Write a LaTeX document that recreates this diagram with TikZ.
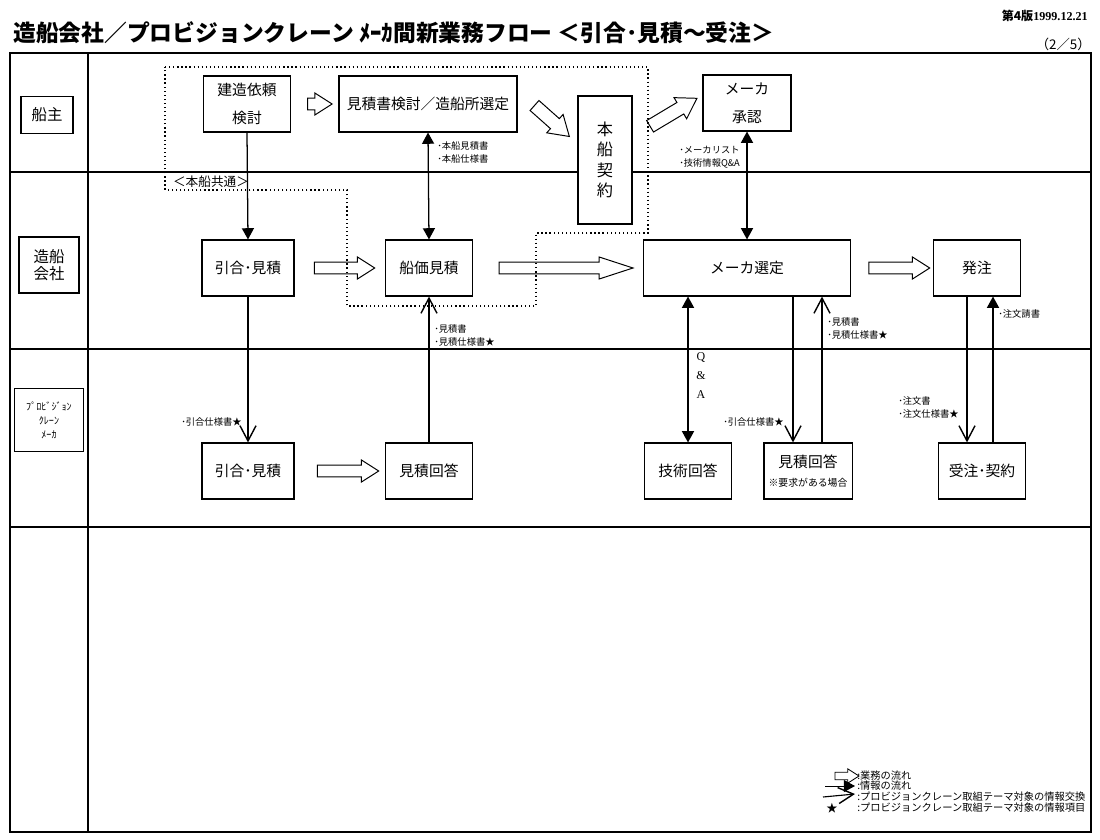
\documentclass[tikz,border=0pt]{standalone}
\usepackage{fontspec}
\setmainfont{Noto Sans CJK JP}
\newfontfamily\romanfont{Liberation Serif}
\usetikzlibrary{shapes.arrows,arrows.meta,calc}

% hollow arrow (業務の流れ) between two points
\newcommand{\flowarrow}[3][]{%
  \path (#2) coordinate (fa) (#3) coordinate (fb);
  \path let \p1=($(fb)-(fa)$), \n1={veclen(\x1,\y1)}, \n2={atan2(\y1,\x1)} in
    node[flow, minimum height=\n1, rotate=\n2, #1] at ($(fa)!0.5!(fb)$) {};}

\begin{document}
\begin{tikzpicture}[
    x=0.025cm, y=-0.025cm,
    box/.style={rectangle, draw, fill=white, line width=0.8pt, minimum width=2.17cm, minimum height=1.4cm, align=center, font=\fontsize{10.5}{20}\selectfont},
    lane/.style={rectangle, draw, fill=white, line width=0.8pt, align=center, inner sep=1pt},
    flow/.style={single arrow, draw, line width=0.7pt, inner xsep=0pt, inner ysep=3.9pt, single arrow head extend=3.6pt, single arrow tip angle=65, minimum width=0pt},
    info/.style={draw, line width=0.9pt, -{Triangle[length=2.8mm,width=3mm]}},
    infoboth/.style={info, {Triangle[length=2.8mm,width=3mm]}-{Triangle[length=2.8mm,width=3mm]}},
    xchg/.style={draw, line width=1.5pt, -{Straight Barb[length=3.8mm,width=4mm,line width=1pt]}},
    note/.style={anchor=west, inner sep=0pt, align=left, font=\fontsize{6.6}{9.2}\selectfont},
    legtext/.style={anchor=west, inner sep=0pt, font=\fontsize{7.3}{9}\selectfont}
]
    \useasboundingbox (0,0) rectangle (1100,840);

    % heading
    \node[anchor=west, inner sep=0pt, font=\bfseries\fontsize{16.2}{18}\selectfont] (title) at (13,33)
        {造船会社／プロビジョンクレーン ﾒｰｶ間新業務フロー ＜引合･見積～受注＞};
    \node[anchor=east, inner sep=0pt, font=\bfseries\fontsize{8.6}{10}\selectfont] (date) at (1088,16)
        {第4版{\romanfont 1999.12.21}};
    \node[anchor=east, inner sep=0pt, font=\fontsize{9.5}{11}\selectfont] (page) at (1091,44) {（2／5）};

    % lanes
    \draw[line width=1pt] (10,53) rectangle (1091,832);
    \draw[line width=1pt] (88,53) -- (88,832);
    \foreach \y in {172,349,527}
        \draw[line width=0.8pt] (10,\y) -- (1091,\y);

    \node[lane, minimum width=1.3cm, minimum height=0.93cm, font=\fontsize{11}{12}\selectfont] (owner) at (47,115) {船主};
    \node[lane, minimum width=1.5cm, minimum height=1.4cm, font=\fontsize{11}{12}\selectfont] (yard) at (49,265) {造船\\会社};
    \node[lane, minimum width=1.72cm, minimum height=1.58cm, font=\fontsize{7.2}{10}\selectfont] (maker) at (49,420) {ﾌﾟﾛﾋﾞｼﾞｮﾝ\\ｸﾚｰﾝ\\ﾒｰｶ};

    % boxes
    \node[box] (kento) at (247,104) {建造依頼\\検討};
    \node[box, minimum width=4.45cm] (sentei) at (428,104) {見積書検討／造船所選定};
    \node[box, minimum width=1.35cm, minimum height=3.2cm, font=\fontsize{11.5}{14.5}\selectfont] (keiyaku) at (605,160) {本\\船\\契\\約};
    \node[box, minimum width=2.2cm] (shonin) at (747,103) {メーカ\\承認};

    \node[box, minimum width=2.3cm] (hikiai) at (248,268) {引合･見積};
    \node[box] (senka) at (429,268) {船価見積};
    \node[box, minimum width=5.18cm] (makersel) at (747,268) {メーカ選定};
    \node[box] (hatchu) at (977,268) {発注};

    \node[box, minimum width=2.3cm] (phikiai) at (248,471) {引合･見積};
    \node[box] (pkaito) at (429,471) {見積回答};
    \node[box] (gijutsu) at (688,471) {技術回答};
    \node[box, font=\fontsize{10.5}{13}\selectfont] (pmitsu) at (808,471) {見積回答\\{\fontsize{7}{8}\selectfont ※要求がある場合}};
    \node[box] (juchu) at (982,471) {受注･契約};

    % business flow
    \flowarrow{$(kento.east)+(12,0)$}{$(sentei.west)+(-11,0)$}
    \flowarrow[inner ysep=4.4pt, single arrow head extend=4pt]{$(sentei.east)+(13,-2)$}{$(keiyaku.west)+(-12,-27)$}
    \flowarrow[inner ysep=4.4pt, single arrow head extend=4pt]{$(keiyaku.east)+(13,-31)$}{$(shonin.west)+(-10,-2)$}
    \flowarrow{$(hikiai.east)+(15,0)$}{$(senka.west)+(-15,0)$}
    \flowarrow[single arrow tip angle=36]{$(senka.east)+(17,0)$}{$(makersel.west)+(-19,0)$}
    \flowarrow{$(makersel.east)+(13,0)$}{$(hatchu.west)+(-8,0)$}
    \flowarrow{$(phikiai.east)+(18,0)$}{$(pkaito.west)+(-11,0)$}

    % common area
    \draw[dotted, line width=0.9pt] (165,67) -- (648,67) -- (648,233) -- (536,233) -- (536,306)
        -- (347,306) -- (347,190) -- (165,190) -- cycle;
    \node[inner sep=0pt, font=\fontsize{9}{10}\selectfont] (common) at (211,182) {＜本船共通＞};

    % information flow
    \draw[info] (kento.south) -- (hikiai.north);
    \draw[infoboth] (sentei.south) -- (senka.north);
    \draw[infoboth] (shonin.south) -- (makersel.north);
    \draw[infoboth] (makersel.south -| gijutsu.north) -- (gijutsu.north);
    \draw[xchg] (hikiai.south) -- (phikiai.north);
    \draw[xchg] (pkaito.north) -- (senka.south);

    \coordinate (m1) at ($(pmitsu.north)+(-15,0)$);
    \coordinate (m2) at ($(pmitsu.north)+(14,0)$);
    \draw[xchg] (m1 |- makersel.south) -- (m1);
    \draw[xchg, line width=0.8pt] (m2) -- (m2 |- makersel.south);
    \coordinate (j1) at ($(juchu.north)+(-15,0)$);
    \coordinate (j2) at ($(juchu.north)+(11,0)$);
    \draw[xchg] (j1 |- hatchu.south) -- (j1);
    \draw[info] (j2) -- (j2 |- hatchu.south);

    \node[note] (n1) at (437,152.5) {･本船見積書\\･本船仕様書};
    \node[note] (n2) at (679,157.5) {･メーカリスト\\･技術情報Q\&A};
    \node[note] (n3) at (434,335.5) {･見積書\\･見積仕様書★};
    \node[note] (n4) at (181,422) {･引合仕様書★};
    \node[note] (n5) at (723,422) {･引合仕様書★};
    \node[note] (n6) at (827,328.5) {･見積書\\･見積仕様書★};
    \node[note] (n7) at (898,407.5) {･注文書\\･注文仕様書★};
    \node[note] (n8) at (998,314) {･注文請書};
    \node[inner sep=0pt, align=center, font=\romanfont\fontsize{8.5}{13.5}\selectfont] (qa) at (701,376) {Q\\\&\\A};

    % legend
    \flowarrow[inner ysep=2.4pt, single arrow head extend=2.4pt, line width=0.6pt]{832,776}{856,776}
    \coordinate (la) at (825,786);
    \coordinate (lb) at (855,786);
    \draw[info, line width=0.7pt] (la) -- (lb);
    \coordinate (lc) at (823,797);
    \coordinate (ld) at (855,794);
    \draw[xchg, line width=0.8pt] (lc) -- (ld);
    \node[inner sep=0pt, font=\fontsize{8}{9}\selectfont] (lstar) at (832,808) {★};
    \node[legtext] (leg1) at (857,776) {:業務の流れ};
    \node[legtext] (leg2) at (857,786) {:情報の流れ};
    \node[legtext] (leg3) at (857,797) {:プロビジョンクレーン取組テーマ対象の情報交換};
    \node[legtext] (leg4) at (857,808) {:プロビジョンクレーン取組テーマ対象の情報項目};
\end{tikzpicture}
\end{document}
